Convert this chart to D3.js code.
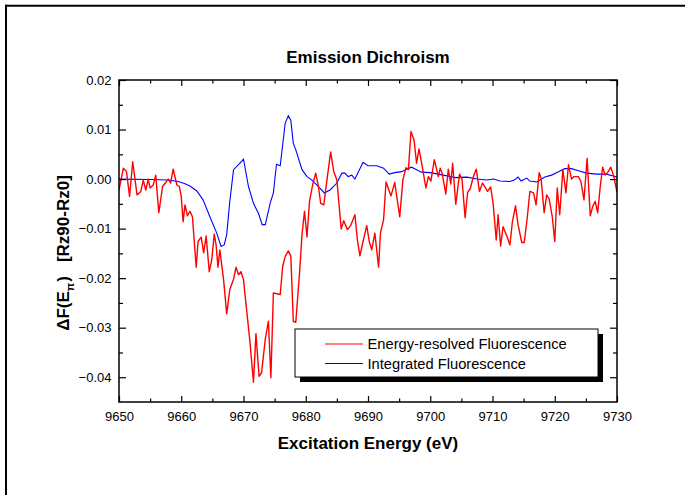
<!DOCTYPE html>
<html><head><meta charset="utf-8">
<script src="https://cdn.jsdelivr.net/npm/d3@7"></script>
<style>
body{margin:0;background:#fff}
svg{display:block}
text{font-family:Arial,"Liberation Sans",sans-serif}
</style>
</head><body>
<svg id="chart" width="685" height="495"></svg>
<script>
// ---- data ----
const chartTitle = "Emission Dichroism";
const xTitle = "Excitation Energy (eV)";
const seriesNames = ["Energy-resolved Fluorescence", "Integrated Fluorescence"];
const seriesColors = ["#ff0000", "#0000ff"];
const xTickValues = [9650, 9660, 9670, 9680, 9690, 9700, 9710, 9720, 9730];
const yTickValues = [0.02, 0.01, 0.00, -0.01, -0.02, -0.03, -0.04];

const redEnergy = [9650.0,9650.7,9651.2,9651.7,9652.2,9652.9,9653.5,9653.9,9654.3,9654.7,9655.0,9655.5,9655.9,9656.4,9657.0,9657.5,9657.9,9658.3,9658.7,9659.3,9659.7,9660.0,9660.3,9660.6,9661.0,9661.4,9661.8,9662.4,9662.7,9663.2,9663.6,9664.0,9664.5,9664.9,9665.3,9665.6,9665.9,9666.2,9666.8,9667.3,9667.8,9668.4,9668.8,9669.2,9669.6,9670.0,9670.5,9671.0,9671.6,9672.0,9672.5,9672.9,9673.5,9674.0,9674.4,9674.8,9675.9,9676.3,9676.7,9677.2,9677.6,9678.0,9678.4,9679.0,9679.4,9679.8,9680.2,9680.6,9681.1,9681.6,9682.0,9682.4,9682.9,9683.4,9684.0,9684.5,9685.0,9685.7,9686.1,9686.7,9687.2,9687.9,9688.3,9688.7,9689.2,9689.8,9690.2,9690.6,9691.1,9691.7,9692.0,9692.5,9692.9,9693.7,9694.3,9695.1,9695.6,9696.1,9696.5,9696.9,9697.4,9697.8,9698.2,9698.8,9699.3,9699.7,9700.1,9700.65,9701.3,9701.6,9701.9,9702.5,9702.9,9703.3,9703.6,9704.1,9704.7,9705.1,9705.6,9706.0,9706.4,9707.0,9707.4,9707.9,9708.4,9708.8,9709.2,9709.7,9710.1,9710.6,9710.9,9711.3,9711.7,9712.3,9712.8,9713.2,9713.7,9714.1,9714.7,9715.1,9715.6,9716.0,9716.6,9717.0,9717.5,9717.8,9718.3,9718.7,9719.1,9719.6,9720.0,9720.4,9720.8,9721.3,9721.8,9722.2,9722.7,9723.1,9723.8,9724.2,9724.7,9725.2,9725.7,9726.1,9726.5,9726.9,9727.3,9727.7,9728.1,9728.6,9729.0,9729.5,9730.0];
const redSignal = [-0.0022,0.0022,0.0015,-0.0035,0.0035,-0.0032,-0.0025,-0.0002,-0.0022,0.0000,-0.0018,-0.0012,0.0008,-0.0068,-0.0015,-0.0007,0.0000,-0.0008,0.0020,-0.0012,-0.0015,-0.0035,-0.0086,-0.0052,-0.0074,-0.0065,-0.0076,-0.0178,-0.0126,-0.0117,-0.0149,-0.0115,-0.0187,-0.0163,-0.0111,-0.0133,-0.0178,-0.0143,-0.0203,-0.0272,-0.0223,-0.0202,-0.0178,-0.0193,-0.0187,-0.0203,-0.0264,-0.0324,-0.0410,-0.0312,-0.0398,-0.0391,-0.0323,-0.0287,-0.0401,-0.0230,-0.0233,-0.0176,-0.0156,-0.0145,-0.0155,-0.0287,-0.0289,-0.0190,-0.0112,-0.0065,-0.0117,-0.0045,-0.0012,0.0012,-0.0012,-0.0049,-0.0052,-0.0002,0.0055,0.0015,-0.0002,-0.0101,-0.0084,-0.0102,-0.0094,-0.0072,-0.0123,-0.0155,-0.0126,-0.0094,-0.0126,-0.0143,-0.0109,-0.0178,-0.0109,-0.0082,-0.0006,-0.0034,-0.0007,-0.0076,-0.0002,0.0023,0.0019,0.0096,0.0079,0.0032,0.0061,0.0019,-0.0018,0.0005,-0.0004,0.0039,0.0005,0.0022,0.0012,-0.0030,0.0020,-0.0010,0.0032,-0.0051,0.0010,0.0000,-0.0078,-0.0027,-0.0020,0.0008,0.0020,-0.0025,-0.0008,-0.0016,-0.0025,-0.0016,-0.0049,-0.0123,-0.0072,-0.0135,-0.0096,-0.0115,-0.0133,-0.0086,-0.0054,-0.0092,-0.0128,-0.0128,-0.0076,-0.0025,-0.0028,-0.0052,0.0013,0.0002,-0.0068,-0.0032,-0.0040,-0.0076,-0.0126,-0.0018,-0.0072,0.0019,-0.0028,0.0029,0.0000,0.0005,0.0005,-0.0005,-0.0042,0.0042,-0.0074,-0.0055,-0.0045,-0.0068,-0.0016,0.0024,0.0008,0.0015,0.0024,0.0005,-0.0027];

const blueEnergy = [9650,9655,9658,9659.5,9660.5,9661.4,9662.5,9663.5,9664.6,9665.7,9666.4,9666.9,9667.3,9667.8,9668.4,9669.2,9670.0,9670.8,9671.6,9672.4,9673.0,9673.5,9674.3,9674.8,9675.3,9675.9,9676.7,9677.2,9677.6,9678.0,9678.4,9679.4,9680.2,9681.0,9681.8,9683.0,9683.9,9685.0,9685.8,9686.3,9686.8,9687.4,9687.9,9689.2,9690.0,9691.4,9692.5,9693.4,9694.3,9695.4,9696.2,9697.0,9697.8,9698.6,9700.0,9702.1,9704.0,9705.9,9707.5,9709.1,9710.2,9711.2,9712.8,9713.5,9714.1,9714.6,9715.5,9716.0,9717.1,9718.4,9719.5,9720.6,9721.6,9722.7,9723.8,9725.1,9726.7,9728.3,9730.0];
const blueSignal = [0.0000,-0.0001,-0.0002,-0.0005,-0.0009,-0.0014,-0.0024,-0.0042,-0.0076,-0.0109,-0.0136,-0.0133,-0.0112,-0.0045,0.0019,0.0029,0.0040,-0.0015,-0.0049,-0.0069,-0.0092,-0.0092,-0.0048,-0.0028,0.0030,0.0027,0.0113,0.0128,0.0119,0.0072,0.0059,0.0019,0.0005,-0.0002,-0.0012,-0.0028,-0.0022,-0.0008,0.0012,0.0012,0.0005,0.0008,0.0000,0.0034,0.0027,0.0027,0.0022,0.0010,0.0013,0.0015,0.0020,0.0024,0.0019,0.0014,0.0013,0.0008,0.0003,0.0004,0.0000,-0.0002,0.0000,-0.0004,-0.0005,-0.0002,0.0004,-0.0004,0.0002,-0.0004,-0.0006,0.0004,0.0008,0.0015,0.0021,0.0021,0.0017,0.0012,0.0010,0.0010,0.0004];

// ---- layout ----
const svg = d3.select("#chart");
const L = 119, R = 617, T = 80, B = 402;
const x = d3.scaleLinear().domain([9650, 9730]).range([L, R]);
const y = d3.scaleLinear().domain([-0.045, 0.02]).range([B, T]);

// page border lines
svg.append("line").attr("x1", 5).attr("x2", 685).attr("y1", 5.7).attr("y2", 5.7).attr("stroke", "#000").attr("stroke-width", 2);
svg.append("line").attr("x1", 6).attr("x2", 6).attr("y1", 4.7).attr("y2", 495).attr("stroke", "#000").attr("stroke-width", 2);

// clip
svg.append("clipPath").attr("id", "clip").append("rect").attr("x", L).attr("y", T).attr("width", R - L).attr("height", B - T);

// lines
const redData = redEnergy.map((e, i) => [e, redSignal[i]]);
const blueData = blueEnergy.map((e, i) => [e, blueSignal[i]]);
const line = d3.line().x(d => x(d[0])).y(d => y(d[1]));
const gLines = svg.append("g").attr("clip-path", "url(#clip)");
gLines.append("path").datum(blueData).attr("d", line).attr("fill", "none").attr("stroke", seriesColors[1]).attr("stroke-width", 1.1);
gLines.append("path").datum(redData).attr("d", line).attr("fill", "none").attr("stroke", seriesColors[0]).attr("stroke-width", 1.4).attr("stroke-linejoin", "round");

// axes
const xMinor = d3.range(9655, 9730, 10);
const yMinor = [0.015, 0.005, -0.005, -0.015, -0.025, -0.035];
function styleAxis(g) {
  g.select(".domain").remove();
  g.selectAll(".tick line").attr("stroke", "#000").attr("stroke-width", 1.2);
  g.selectAll("text").attr("fill", "#000").style("font-size", "13px").style("font-family", "Arial, 'Liberation Sans', sans-serif");
}
svg.append("g").attr("transform", `translate(0,${B})`)
  .call(d3.axisBottom(x).tickValues(xTickValues).tickFormat(d3.format("d")).tickSize(-6).tickPadding(9.5)).call(styleAxis);
svg.append("g").attr("transform", `translate(0,${B})`)
  .call(d3.axisBottom(x).tickValues(xMinor).tickFormat("").tickSize(-3.5)).call(styleAxis);
svg.append("g").attr("transform", `translate(0,${T})`)
  .call(d3.axisTop(x).tickValues(xTickValues).tickFormat("").tickSize(-6)).call(styleAxis);
svg.append("g").attr("transform", `translate(0,${T})`)
  .call(d3.axisTop(x).tickValues(xMinor).tickFormat("").tickSize(-3.5)).call(styleAxis);
svg.append("g").attr("transform", `translate(${L},0)`)
  .call(d3.axisLeft(y).tickValues(yTickValues).tickFormat(d3.format(".2f")).tickSize(-7).tickPadding(7.5)).call(styleAxis);
svg.append("g").attr("transform", `translate(${L},0)`)
  .call(d3.axisLeft(y).tickValues(yMinor).tickFormat("").tickSize(-4)).call(styleAxis);
svg.append("g").attr("transform", `translate(${R},0)`)
  .call(d3.axisRight(y).tickValues(yTickValues).tickFormat("").tickSize(-7)).call(styleAxis);
svg.append("g").attr("transform", `translate(${R},0)`)
  .call(d3.axisRight(y).tickValues(yMinor).tickFormat("").tickSize(-4)).call(styleAxis);

// frame
svg.append("rect").attr("x", L).attr("y", T).attr("width", R - L).attr("height", B - T)
  .attr("fill", "none").attr("stroke", "#000").attr("stroke-width", 1.5);

// title
svg.append("text").attr("x", 368).attr("y", 63).attr("text-anchor", "middle")
  .style("font-size", "17px").style("font-weight", "bold").text(chartTitle);
// x title
svg.append("text").attr("x", 368).attr("y", 449).attr("text-anchor", "middle")
  .style("font-size", "17px").style("font-weight", "bold").text(xTitle);
// y title
const yt = svg.append("text").attr("transform", "translate(68.5,253) rotate(-90)")
  .attr("text-anchor", "middle").style("font-size", "17px").style("font-weight", "bold");
yt.append("tspan").text("ΔF(E");
yt.append("tspan").attr("dy", 5).style("font-size", "11px").text("π");
yt.append("tspan").attr("dy", -5).attr("dx", 1).text(")");
yt.append("tspan").attr("dx", 14).text("[Rz90-Rz0]");

// legend
const lx = 295, ly = 329, lw = 303, lh = 48;
svg.append("rect").attr("x", lx + 5).attr("y", ly + 5).attr("width", lw).attr("height", lh).attr("fill", "#000");
svg.append("rect").attr("x", lx).attr("y", ly).attr("width", lw).attr("height", lh).attr("fill", "#fff").attr("stroke", "#000").attr("stroke-width", 1);
seriesNames.forEach((name, i) => {
  const yy = ly + 15 + i * 19.5;
  svg.append("line").attr("x1", 325).attr("x2", 363).attr("y1", yy).attr("y2", yy)
    .attr("stroke", seriesColors[i]).attr("stroke-width", 1.2);
  svg.append("text").attr("x", 367.5).attr("y", yy + 5).style("font-size", "14.7px").attr("fill", "#000").text(name);
});
</script>
</body></html>
